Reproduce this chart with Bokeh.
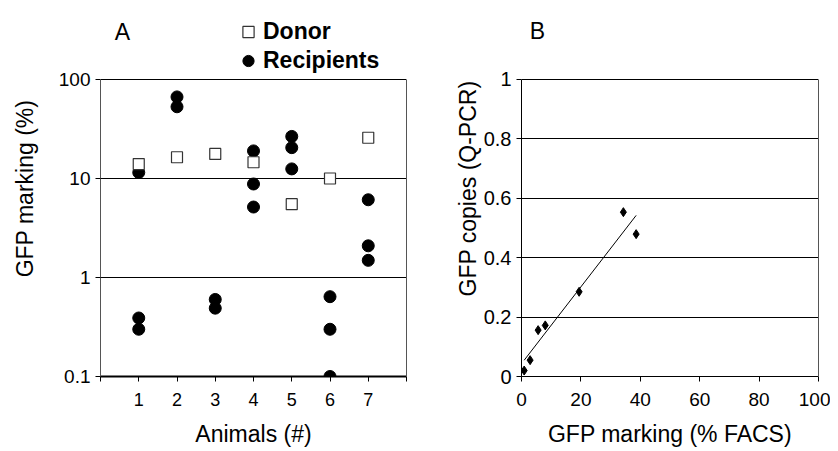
from bokeh.plotting import figure
from bokeh.layouts import row
from bokeh.models import (FixedTicker, Legend, LegendItem, Label, LogAxis,
                          LinearAxis)
from bokeh.embed import file_html
from bokeh.resources import INLINE
import numpy as np

# ---------------- data ----------------
donor_animal = [1, 2, 3, 4, 5, 6, 7]
donor_marking = [14.0, 16.4, 17.7, 14.6, 5.5, 10.0, 25.8]

recip_animal = [1, 1, 1, 2, 2, 3, 3, 4, 4, 4, 5, 5, 5, 6, 6, 6, 7, 7, 7]
recip_marking = [11.5, 0.39, 0.30, 66.7, 53.0, 0.60, 0.49, 19.0, 8.8, 5.15,
                 26.6, 20.5, 12.5, 0.64, 0.30, 0.10, 6.1, 2.09, 1.49]

facs = [0.9, 2.9, 5.6, 8.0, 19.4, 34.3, 38.6]
qpcr = [0.02, 0.055, 0.156, 0.172, 0.285, 0.553, 0.479]

x_ticks_a = [0, 1, 2, 3, 4, 5, 6, 7, 8]
y_ticks_a = [0.1, 1, 10, 100]
x_ticks_b = [0, 20, 40, 60, 80, 100]
y_ticks_b = [0, 0.2, 0.4, 0.6, 0.8, 1.0]

FONT = "Liberation Sans"
H = 451
TOP_PAD = 79          # px between figure top and the top of the data box
A_BOTTOM = 376        # px of the data box bottom (panel A)
B_BOTTOM = 377        # px of the data box bottom (panel B)

# extended ranges so the header (panel letter, legend) sits inside the frame
a_lo, a_hi = 0.1, 100.0
a_dec = np.log10(a_hi / a_lo)
a_top = a_hi * 10 ** (a_dec * TOP_PAD / (A_BOTTOM - TOP_PAD))
b_lo, b_hi = 0.0, 1.0
b_top = b_hi + (b_hi - b_lo) * TOP_PAD / (B_BOTTOM - TOP_PAD)


def style_axes(p, xsize, ysize):
    for ax in (p.xaxis[0], p.yaxis[0]):
        ax.minor_tick_line_color = None
        ax.major_tick_in = 0
        ax.major_tick_out = 5
        ax.major_tick_line_color = "black"
        ax.axis_line_color = "black"
        ax.major_label_text_font = FONT
        ax.major_label_text_color = "black"
        ax.axis_label_text_font = FONT
        ax.axis_label_text_font_style = "normal"
        ax.axis_label_text_color = "black"
        ax.axis_label_text_font_size = "23px"
    p.xaxis.major_label_text_font_size = xsize
    p.yaxis.major_label_text_font_size = ysize


# ---------------- panel A ----------------
pa = figure(width=428, height=H, y_axis_type="log",
            x_range=(0, 8), y_range=(a_lo, a_top),
            output_backend="svg", toolbar_location=None,
            min_border_left=100, min_border_right=22,
            min_border_top=0, min_border_bottom=H - A_BOTTOM)
pa.outline_line_color = None
pa.xgrid.grid_line_color = None
pa.ygrid.grid_line_color = "black"
pa.ygrid.ticker = FixedTicker(ticks=[1, 10, 100])
pa.xaxis.ticker = FixedTicker(ticks=x_ticks_a)
pa.xaxis.major_label_overrides = {0: "", 8: ""}
pa.yaxis.ticker = FixedTicker(ticks=y_ticks_a)
pa.yaxis.major_label_overrides = {0.1: "0.1", 1: "1", 10: "10", 100: "100"}
pa.yaxis.bounds = (a_lo, a_hi)
style_axes(pa, "18px", "19px")
pa.xaxis.axis_line_width = 2
pa.yaxis.axis_line_color = "#555555"
pa.xaxis.major_label_standoff = 11
pa.xaxis.axis_label = "Animals (#)"
pa.yaxis.axis_label = "GFP marking (%)"
pa.xaxis.axis_label_standoff = 12
pa.yaxis.axis_label_standoff = 18
pa.add_layout(LogAxis(bounds=(a_lo, a_hi), ticker=FixedTicker(ticks=[]),
                      axis_line_color="#555555"), "right")

r_rec = pa.scatter(recip_animal, recip_marking, marker="circle", size=12,
                   fill_color="black", line_color="black")
r_don = pa.scatter(donor_animal, donor_marking, marker="square", size=11,
                   fill_color="white", line_color="#333333", line_width=1.2)

legend = Legend(items=[LegendItem(label="Donor", renderers=[r_don]),
                       LegendItem(label="Recipients", renderers=[r_rec])],
                location=(134, A_BOTTOM - 75), orientation="vertical",
                glyph_width=28, glyph_height=29, spacing=0, padding=0, margin=0,
                label_standoff=1, label_height=29,
                border_line_color=None, background_fill_alpha=0,
                label_text_font=FONT, label_text_font_style="bold",
                label_text_font_size="23px", label_text_color="black")
pa.add_layout(legend, "center")
pa.add_layout(Label(x=22, y=A_BOTTOM - 31, x_units="screen", y_units="screen",
                    text="A", text_font=FONT, text_font_size="23px",
                    text_color="black", text_align="center",
                    text_baseline="middle"))

# ---------------- panel B ----------------
pb = figure(width=402, height=H, x_range=(0, 100), y_range=(b_lo, b_top),
            output_backend="svg", toolbar_location=None,
            min_border_left=93, min_border_right=12,
            min_border_top=0, min_border_bottom=H - B_BOTTOM)
pb.outline_line_color = None
pb.xgrid.grid_line_color = None
pb.ygrid.grid_line_color = "black"
pb.ygrid.ticker = FixedTicker(ticks=[0.2, 0.4, 0.6, 0.8, 1.0])
pb.xaxis.ticker = FixedTicker(ticks=x_ticks_b)
pb.yaxis.ticker = FixedTicker(ticks=y_ticks_b)
pb.yaxis.major_label_overrides = {0: "0", 0.2: "0.2", 0.4: "0.4", 0.6: "0.6",
                                  0.8: "0.8", 1.0: "1"}
pb.yaxis.bounds = (b_lo, b_hi)
style_axes(pb, "19px", "20px")
pb.xaxis.major_label_standoff = 11
pb.xaxis.axis_label = "GFP marking (% FACS)"
pb.yaxis.axis_label = "GFP copies (Q-PCR)"
pb.xaxis.axis_label_standoff = 12
pb.yaxis.axis_label_standoff = 0
pb.add_layout(LinearAxis(bounds=(b_lo, b_hi), ticker=FixedTicker(ticks=[]),
                         axis_line_color="#555555"), "right")

# linear trend line (least squares) over the data range
fx = np.array(facs)
fy = np.array(qpcr)
slope, intercept = np.polyfit(fx, fy, 1)
lx = [fx.min(), fx.max()]
ly = [slope * v + intercept for v in lx]
pb.line(lx, ly, line_color="black", line_width=1)

pb.scatter(facs, qpcr, marker="diamond", size=9,
           fill_color="black", line_color="black")

pb.add_layout(Label(x=16, y=B_BOTTOM - 31, x_units="screen", y_units="screen",
                    text="B", text_font=FONT, text_font_size="23px",
                    text_color="black", text_align="center",
                    text_baseline="middle"))

layout = row(pa, pb)
open("out.html", "w").write(file_html(layout, INLINE))
